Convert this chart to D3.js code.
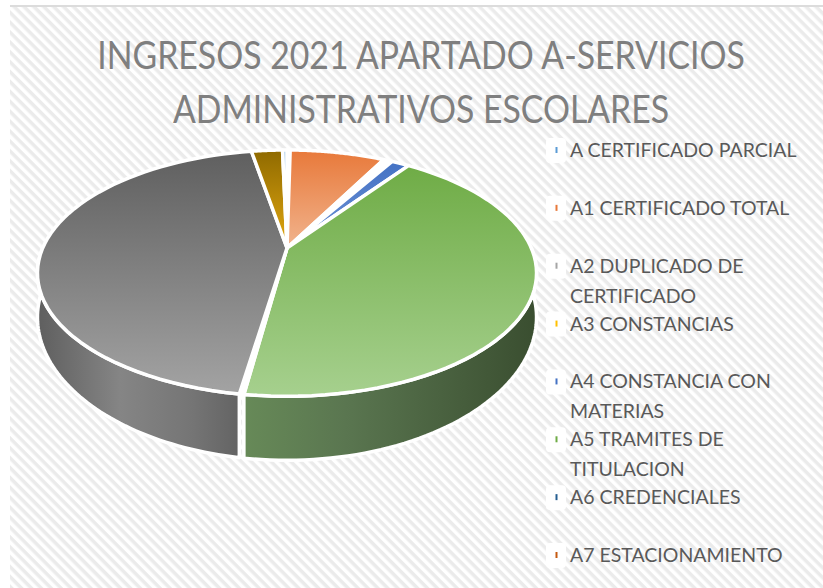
<!DOCTYPE html>
<html><head><meta charset="utf-8">
<script src="https://cdn.jsdelivr.net/npm/d3@7/dist/d3.min.js"></script>
<style>html,body{margin:0;padding:0;background:#fff}svg{display:block}text{font-family:Lato,sans-serif}</style>
</head><body><svg id="c" width="823" height="588"></svg>
<script>
const titleLines = ["INGRESOS 2021 APARTADO A-SERVICIOS", "ADMINISTRATIVOS ESCOLARES"];
const categories = ["A CERTIFICADO PARCIAL","A1 CERTIFICADO TOTAL","A2 DUPLICADO DE|CERTIFICADO","A3 CONSTANCIAS","A4 CONSTANCIA CON|MATERIAS","A5 TRAMITES DE|TITULACION","A6 CREDENCIALES","A7 ESTACIONAMIENTO","A8","A9","A10"];
const values = [0.25,7.5,0.35,0.35,1.4,42.4,0.12,0.12,44.71,2.45,0.35];
const topColors = ["#5b9bd5","#e8793a","#a5a5a5","#ffc000","#4472c4","#6fac46","#255e91","#c55a11","#5f5f5f","#8f6a00","#9dc3e6"];
const lightColors = ["#9dc3e6","#f1b48e","#c8c8c8","#ffd966","#6f93d6","#a6d08e","#4a86c0","#e08a4a","#a3a3a3","#e3a810","#c5dcf0"];
const legendCount = 8;

const svg = d3.select("#c");
const defs = svg.append("defs");

// Background hatch
const pat = defs.append("pattern").attr("id","hatch").attr("width",7).attr("height",7)
  .attr("patternUnits","userSpaceOnUse").attr("patternTransform","rotate(45)");
pat.append("rect").attr("width",7).attr("height",7).attr("fill","#fff");
pat.append("rect").attr("width",7).attr("height",3.5).attr("fill","#ebebeb");
svg.append("rect").attr("x",10).attr("y",6).attr("width",813).attr("height",582).attr("fill","url(#hatch)");
svg.append("rect").attr("x",10).attr("y",5).attr("width",813).attr("height",2).attr("fill","#dcdcdc");

// Perspective projection of the disc
const cx=287, cy=248, A=118, B=244.3, k=0.204;
const proj=(t)=>{const X=Math.sin(t),Y=Math.cos(t),w=1+k*Y;return [cx+B*X/w, cy-A*Y/w];};
const projLow=(t)=>{const p=proj(t),w=1+k*Math.cos(t);return [p[0],p[1]+40.6/(w*w)];};
const line=d3.line();
const pie=d3.pie().sort(null).startAngle(0).endAngle(2*Math.PI)(values);
const samples=(a,b)=>d3.range(0,61).map(i=>a+(b-a)*i/60);

// Sides
function sideGrad(id,x1,x2,stops){
  const g=defs.append("linearGradient").attr("id",id).attr("gradientUnits","userSpaceOnUse")
    .attr("x1",x1).attr("x2",x2).attr("y1",0).attr("y2",0);
  stops.forEach(s=>g.append("stop").attr("offset",s[0]).attr("stop-color",s[1]));
}
sideGrad("sideGreen",243,536,[[0,"#678a58"],[0.35,"#5a7650"],[1,"#3a4e30"]]);
sideGrad("sideGray",38,243,[[0,"#5f5f5f"],[0.4,"#858585"],[0.75,"#757575"],[1,"#626262"]]);
const sideFill=["sideGreen","sideGray"];
[[5,sideFill[0]],[8,sideFill[1]]].forEach(([i,f])=>{
  const d=pie[i];
  const a=Math.max(d.startAngle,Math.PI/2), b=Math.min(d.endAngle,1.5*Math.PI);
  const top=samples(a,b).map(proj), low=samples(a,b).map(projLow).reverse();
  svg.append("path").attr("d",line(top.concat(low))+"Z").attr("fill",`url(#${f})`)
    .attr("stroke","#fff").attr("stroke-width",3.5).attr("stroke-linejoin","round");
});

// Top faces
pie.forEach((d,i)=>{
  const g=defs.append("linearGradient").attr("id","top"+i).attr("x1",0).attr("x2",0).attr("y1",0).attr("y2",1);
  g.append("stop").attr("offset",0).attr("stop-color",topColors[i]);
  g.append("stop").attr("offset",1).attr("stop-color",lightColors[i]);
  const pts=[[cx,cy]].concat(samples(d.startAngle,d.endAngle).map(proj));
  svg.append("path").attr("d",line(pts)+"Z").attr("fill",`url(#top${i})`)
    .attr("stroke","#fff").attr("stroke-width",3.5).attr("stroke-linejoin","round");
});

// Title: condensed horizontally, Calibri being narrower than Lato
svg.selectAll("text.t").data(titleLines).join("text").attr("class","t")
  .attr("transform",(d,i)=>`translate(421,${69+i*54}) scale(0.889,1)`).attr("text-anchor","middle")
  .attr("font-size",38).attr("fill","#7f7f7f").text(d=>d);

// Legend
const ly=d3.scaleLinear().domain([0,7]).range([150,555]);
categories.slice(0,legendCount).forEach((c,i)=>{
  const y=ly(i);
  svg.append("rect").attr("x",546).attr("y",y-12).attr("width",20).attr("height",25).attr("rx",4).attr("fill","#fff");
  svg.append("rect").attr("x",555.5).attr("y",y-3).attr("width",2).attr("height",6).attr("fill",topColors[i]);
  c.split("|").forEach((s,j)=>{
    svg.append("text").attr("transform",`translate(570,${y+7+j*30}) scale(0.975,1)`).attr("font-size",20).attr("fill","#595959").text(s);
  });
});
</script></body></html>
